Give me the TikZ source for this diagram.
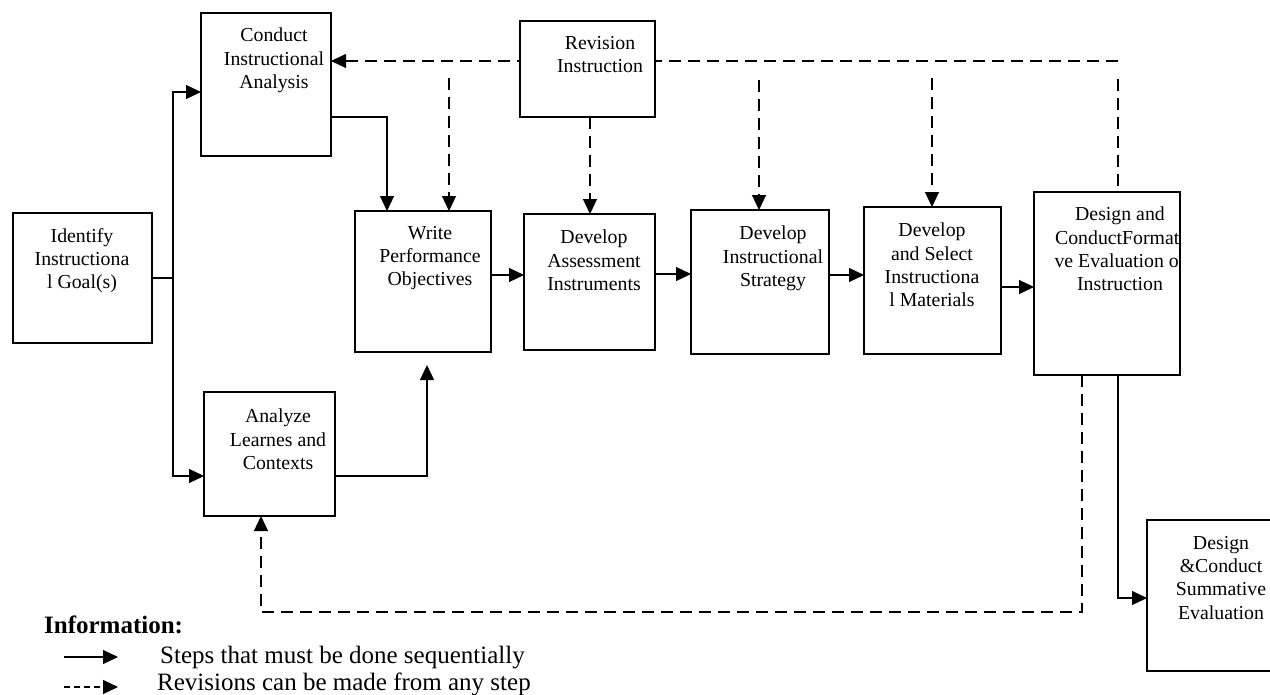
\documentclass[tikz,border=0pt]{standalone}
\usepackage{fontspec}
\setmainfont{Liberation Serif}
\usetikzlibrary{arrows.meta}
\begin{document}
\begin{tikzpicture}[x=1pt,y=-1pt,
  box/.style={draw,line width=1.2pt,fill=white,inner sep=0pt,outer sep=0pt,anchor=north west},
  txt/.style={anchor=north,align=center,inner sep=0pt,font=\fontsize{19.8pt}{23.3pt}\selectfont},
  seq/.style={line width=1.2pt,-{Triangle[length=15pt,width=14pt]}},
  rev/.style={line width=1.2pt,dash pattern=on 12pt off 7pt,-{Triangle[length=15pt,width=14pt]}},
  revline/.style={line width=1.2pt,dash pattern=on 12pt off 7pt},
  leg/.style={anchor=base west,inner sep=0pt,font=\fontsize{25pt}{29pt}\selectfont}]
\useasboundingbox (0,0) rectangle (1270,694);
\begin{scope}
\clip (0,0) rectangle (1270,694);
% boxes
\node[box,minimum width=139pt,minimum height=130pt] (goal) at (13,213) {};
\node[box,minimum width=130pt,minimum height=143pt] (cia) at (201,13) {};
\node[box,minimum width=136pt,minimum height=141pt] (wpo) at (355,211) {};
\node[box,minimum width=131pt,minimum height=136pt] (dai) at (524,214) {};
\node[box,minimum width=138pt,minimum height=144pt] (dis) at (691,210) {};
\node[box,minimum width=137pt,minimum height=147pt] (dsm) at (864,207) {};
\node[box,minimum width=146pt,minimum height=183pt] (form) at (1034,192) {};
\node[box,minimum width=131pt,minimum height=124pt] (alc) at (204,392) {};
\node[box,minimum width=140pt,minimum height=151pt] (sum) at (1147,520) {};
% coordinates
\coordinate (jtop) at (173,92);
\coordinate (jbot) at (173,476);
\coordinate (k1) at (387,117);
\coordinate (k2) at (427,476);
\coordinate (k3) at (0,275);
\coordinate (k5) at (0,274);
\coordinate (k6) at (0,287);
\coordinate (k4) at (1118,598);
\coordinate (d1) at (1082,612);
\coordinate (d2) at (261,612);
\coordinate (d3) at (1118,61);
\coordinate (d4) at (1118,79);
\coordinate (d5) at (449,78);
\coordinate (d6) at (759,80);
\coordinate (d7) at (932,78);
\coordinate (d8) at (590,0);
% top dashed line (behind revision box)
\draw[rev] (d3) -- (d3 -| cia.east);
\node[box,minimum width=135pt,minimum height=96pt] (rev) at (520,21) {};
% texts
\node[txt] (tgoal) at (82,228) {Identify\\Instructiona\\l Goal(s)};
\node[txt] (tcia) at (274,28) {Conduct\\Instructional\\Analysis};
\node[txt] (trev) at (600,36) {Revision\\Instruction};
\node[txt] (twpo) at (430,226) {Write\\Performance\\Objectives};
\node[txt] (tdai) at (594,230) {Develop\\Assessment\\Instruments};
\node[txt] (tdis) at (773,226) {Develop\\Instructional\\Strategy};
\node[txt] (tdsm) at (932,223) {Develop\\and Select\\Instructiona\\l Materials};
\begin{scope}
\clip (form.north west) rectangle (form.south east);
\node[txt] (tform) at (1120,207) {Design and\\ConductFormati\\ve Evaluation of\\Instruction};
\end{scope}
\node[txt] (talc) at (278,409) {Analyze\\Learnes and\\Contexts};
\node[txt] (tsum) at (1221,536) {Design\\\&Conduct\\Summative\\Evaluation};
% sequential connectors
\draw[seq] (goal.east) -| (jtop) -- (jtop -| cia.west);
\draw[seq] (goal.east) -| (jbot) -- (jbot -| alc.west);
\draw[seq] (k1 -| cia.east) -- (k1) -- (k1 |- wpo.north);
\draw[seq,shorten >=13pt] (k2 -| alc.east) -- (k2) -- (k2 |- wpo.south);
\draw[seq] (wpo.east |- k3) -- (dai.west |- k3);
\draw[seq] (dai.east |- k5) -- (dis.west |- k5);
\draw[seq] (dis.east |- k3) -- (dsm.west |- k3);
\draw[seq] (dsm.east |- k6) -- (form.west |- k6);
\draw[seq] (form.south -| k4) -- (k4) -- (k4 -| sum.west);
% revision connectors
\draw[rev] (form.south -| d1) -- (d1) -- (d2) -- (d2 |- alc.south);
\draw[revline] (d4) -- (d4 |- form.north);
\draw[rev] (d5) -- (d5 |- wpo.north);
\draw[rev] (d6) -- (d6 |- dis.north);
\draw[rev] (d7) -- (d7 |- dsm.north);
\draw[rev] (rev.south -| d8) -- (dai.north -| d8);
% legend
\node[leg,font=\fontsize{25pt}{29pt}\selectfont\bfseries] (info) at (44,633) {Information:};
\coordinate (l1) at (64,657);
\coordinate (l2) at (118,657);
\coordinate (l3) at (64,687);
\coordinate (l4) at (118,687);
\draw[seq] (l1) -- (l2);
\draw[line width=1.2pt,dash pattern=on 5.5pt off 4.5pt,-{Triangle[length=15pt,width=14pt]}] (l3) -- (l4);
\node[leg] (lt1) at (160,663) {Steps that must be done sequentially};
\node[leg] (lt2) at (157,690) {Revisions can be made from any step};
\end{scope}
\end{tikzpicture}
\end{document}
